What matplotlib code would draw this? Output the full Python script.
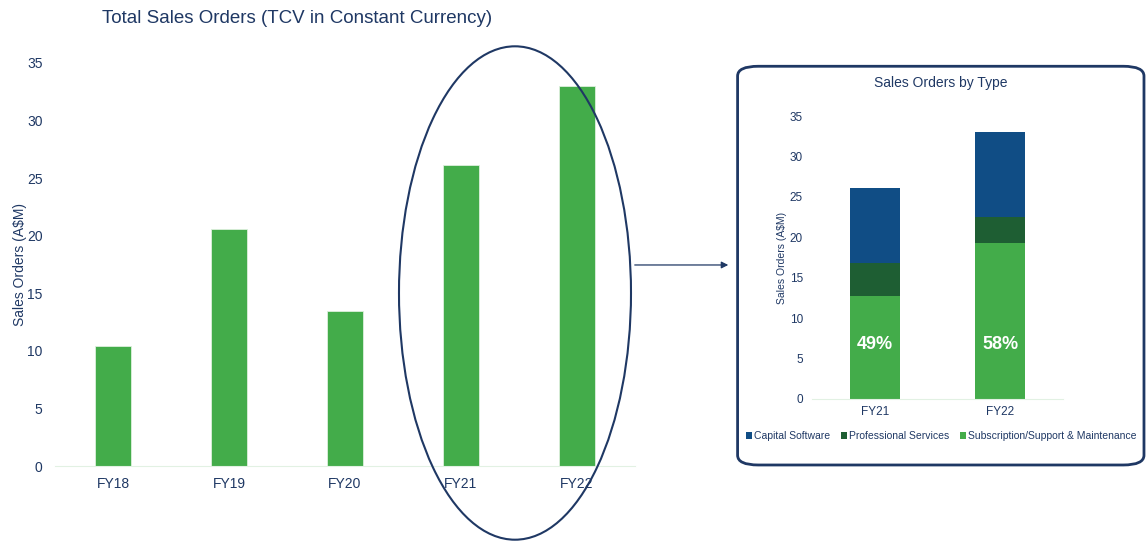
import matplotlib.pyplot as plt
from matplotlib.patches import Ellipse, FancyBboxPatch, FancyArrowPatch

# data
years = ['FY18', 'FY19', 'FY20', 'FY21', 'FY22']
total_orders = [10.4, 20.6, 13.5, 26.1, 33.0]

type_years = ['FY21', 'FY22']
subscription = [12.7, 19.3]
professional = [4.1, 3.2]
capital = [9.3, 10.5]
pct_labels = ['49%', '58%']

navy = '#1F3864'
green = '#43AC4A'
dkgreen = '#1E5E33'
blue = '#104D85'

plt.rcParams['font.family'] = ['Liberation Sans', 'DejaVu Sans']

fig = plt.figure(figsize=(11.48, 5.41), dpi=100)

# main chart
ax = fig.add_axes([0.0479, 0.1386, 0.5052, 0.745])
ax.bar(range(len(years)), total_orders, width=0.31, color=green, edgecolor='#DDF0DD', linewidth=0.6)
ax.set_xlim(-0.5, 4.5)
ax.set_ylim(0, 35)
ax.set_xticks(range(len(years)))
ax.set_xticklabels(years)
ax.set_yticks(range(0, 40, 5))
for s in ['top', 'right', 'left']:
    ax.spines[s].set_visible(False)
ax.spines['bottom'].set_color('#E2F1E3')
ax.tick_params(length=0, colors=navy, labelsize=10)
ax.tick_params(axis='y', pad=9)
ax.tick_params(axis='x', pad=8)
ax.set_ylabel('Sales Orders (A$M)', color=navy, fontsize=10)
ax.yaxis.set_label_coords(-0.048, 0.5)
fig.text(0.2587, 0.965, 'Total Sales Orders (TCV in Constant Currency)', ha='center', va='center',
         fontsize=13.5, color=navy)

# ellipse around FY21/FY22
fig.patches.append(Ellipse((0.4486, 0.4584), 0.2021, 0.912, transform=fig.transFigure,
                           facecolor='none', edgecolor=navy, linewidth=1.5))

# arrow to inset
fig.patches.append(FancyArrowPatch((0.5505, 0.5102), (0.6368, 0.5102), transform=fig.transFigure,
                                   arrowstyle='-|>', mutation_scale=10, color=navy, linewidth=0.9))

# inset box
fig.patches.append(FancyBboxPatch((0.6425, 0.1405), 0.354, 0.737, transform=fig.transFigure,
                                  boxstyle='round,pad=0,rounding_size=0.018', facecolor='none',
                                  edgecolor=navy, linewidth=2))

# inset chart
ax2 = fig.add_axes([0.7073, 0.2625, 0.2186, 0.523])
x2 = range(len(type_years))
ax2.bar(x2, subscription, width=0.4, color=green, label='Subscription/Support & Maintenance')
bot = subscription
ax2.bar(x2, professional, width=0.4, bottom=bot, color=dkgreen, label='Professional Services')
bot2 = [a + b for a, b in zip(subscription, professional)]
ax2.bar(x2, capital, width=0.4, bottom=bot2, color=blue, label='Capital Software')
for i, lab in enumerate(pct_labels):
    ax2.text(i, 6.7, lab, ha='center', va='center', color='white', fontsize=13, fontweight='bold')
ax2.set_xlim(-0.5, 1.5)
ax2.set_ylim(0, 35)
ax2.set_xticks(list(x2))
ax2.set_xticklabels(type_years)
ax2.set_yticks(range(0, 40, 5))
for s in ['top', 'right', 'left']:
    ax2.spines[s].set_visible(False)
ax2.spines['bottom'].set_color('#E2F1E3')
ax2.tick_params(length=0, colors=navy, labelsize=8.5)
ax2.tick_params(axis='y', pad=6.5)
ax2.tick_params(axis='x', pad=5)
ax2.set_ylabel('Sales Orders (A$M)', color=navy, fontsize=7.5)
ax2.yaxis.set_label_coords(-0.098, 0.5)
fig.text(0.8197, 0.847, 'Sales Orders by Type', ha='center', va='center', fontsize=10, color=navy)

h, l = ax2.get_legend_handles_labels()
leg = fig.legend(h[::-1], l[::-1], loc='center', bbox_to_anchor=(0.8197, 0.194), ncol=3,
                 frameon=False, fontsize=7.5, handlelength=0.6, handleheight=0.6,
                 handletextpad=0.2, columnspacing=1.0)
for t in leg.get_texts():
    t.set_color(navy)

fig.savefig('out.png', dpi=100)
